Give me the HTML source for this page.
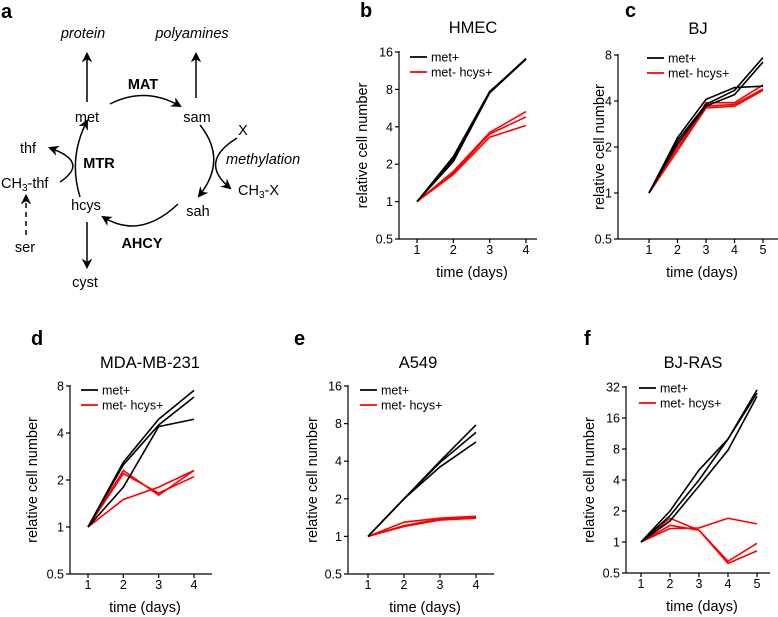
<!DOCTYPE html>
<html><head><meta charset="utf-8">
<style>
body{margin:0;background:#fff;}
svg{display:block;font-family:"Liberation Sans",Arial,sans-serif;}
</style></head>
<body>
<svg id="fig" width="778" height="617" viewBox="0 0 778 617">
<defs>
<marker id="ah" viewBox="0 0 10 10" refX="8" refY="5" markerWidth="7" markerHeight="7" orient="auto-start-reverse"><path d="M0,0 L10,5 L0,10 L3,5 z" fill="#000"/></marker>
</defs>
<g id="pathway" font-size="14.5" fill="#000">
<text x="1" y="18" font-size="20" font-weight="bold">a</text>
<text x="83" y="38" text-anchor="middle" font-style="italic">protein</text>
<text x="192" y="38" text-anchor="middle" font-style="italic">polyamines</text>
<text x="87" y="122" text-anchor="middle">met</text>
<text x="197" y="122" text-anchor="middle">sam</text>
<text x="143" y="89" text-anchor="middle" font-weight="bold">MAT</text>
<text x="243" y="135" text-anchor="middle">X</text>
<text x="226" y="164" font-style="italic">methylation</text>
<text x="238" y="195">CH<tspan font-size="10" dy="3">3</tspan><tspan dy="-3">-X</tspan></text>
<text x="198" y="216" text-anchor="middle">sah</text>
<text x="142" y="248" text-anchor="middle" font-weight="bold">AHCY</text>
<text x="86" y="210" text-anchor="middle">hcys</text>
<text x="99" y="168" text-anchor="middle" font-weight="bold">MTR</text>
<text x="28" y="153" text-anchor="middle">thf</text>
<text x="1" y="188">CH<tspan font-size="10" dy="3">3</tspan><tspan dy="-3">-thf</tspan></text>
<text x="25" y="252" text-anchor="middle">ser</text>
<text x="85" y="287" text-anchor="middle">cyst</text>
<g stroke="#000" stroke-width="1.5" fill="none">
<line x1="87" y1="102" x2="87" y2="54" marker-end="url(#ah)"/>
<line x1="196" y1="98" x2="196" y2="54" marker-end="url(#ah)"/>
<line x1="87" y1="222" x2="87" y2="267" marker-end="url(#ah)"/>
<line x1="26" y1="235" x2="26" y2="196" stroke-dasharray="5,4" marker-end="url(#ah)"/>
<path d="M110,104 Q145,86 180,106" marker-end="url(#ah)"/>
<path d="M200,125 Q228,160 199,196" marker-end="url(#ah)"/>
<path d="M237,138 Q198,162 230,188" marker-end="url(#ah)"/>
<path d="M178,204 Q140,240 103,217" marker-end="url(#ah)"/>
<path d="M80,197 Q68,158 87,121" marker-end="url(#ah)"/>
<path d="M60,182 Q90,162 50,148" marker-end="url(#ah)"/>
</g>
</g>
</svg>
<script>
// ----- data -----
const hmecDays=[1,2,3,4];
const hmecMet=[[1,2.3,7.7,14],[1,2.1,7.5,14],[1,2.2,7.6,14.2]];
const hmecHcys=[[1,1.75,3.6,5.3],[1,1.65,3.3,4.1],[1,1.7,3.5,4.8]];
const bjDays=[1,2,3,4,5];
const bjMet=[[1,2.3,4.1,4.9,5.0],[1,2.2,3.8,4.7,7.7],[1,2.1,3.7,4.4,7.2]];
const bjHcys=[[1,1.9,3.9,3.9,5.1],[1,2.0,3.7,3.8,4.8],[1,1.9,3.6,3.7,4.7]];
const mdaDays=[1,2,3,4];
const mdaMet=[[1,2.6,4.9,7.5],[1,2.5,4.5,6.8],[1,1.8,4.4,4.9]];
const mdaHcys=[[1,2.3,1.6,2.3],[1,2.2,1.65,2.1],[1,1.5,1.8,2.3]];
const a549Days=[1,2,3,4];
const a549Met=[[1,2,4,7.8],[1,2,3.9,6.8],[1,2,3.6,5.7]];
const a549Hcys=[[1,1.3,1.4,1.45],[1,1.2,1.35,1.4],[1,1.22,1.38,1.42]];
const rasDays=[1,2,3,4,5];
const rasMet=[[1,2,5,10,30],[1,1.8,4,10,28],[1,1.6,3.5,7.8,26]];
const rasHcys=[[1,1.35,1.37,1.7,1.5],[1,1.7,1.3,0.65,0.97],[1,1.45,1.3,0.62,0.82]];
const ticksB=[0.5,1,2,4,8,16];
const ticksC=[0.5,1,2,4,8];
const ticksF=[0.5,1,2,4,8,16,32];

const NS="http://www.w3.org/2000/svg";
const svg=document.getElementById('fig');
function mk(tag,attrs,parent){const e=document.createElementNS(NS,tag);for(const k in attrs)e.setAttribute(k,attrs[k]);parent.appendChild(e);return e;}

function panel(cfg,days,met,hcys,ticks){
  const g=mk('g',{},svg);
  
  
  const lmin=Math.log2(ticks[0]),lmax=Math.log2(ticks[ticks.length-1]);
  const ys=v=>cfg.y0+(Math.log2(v)-lmin)/(lmax-lmin)*(cfg.y1-cfg.y0);
  const xs=d=>cfg.x0+(d-days[0])/(days[days.length-1]-days[0])*(cfg.x1-cfg.x0);
  let t=mk('text',{x:cfg.lx,y:cfg.ly,'font-size':20,'font-weight':'bold'},g);t.textContent=cfg.id;
  
  
  t=mk('text',{x:cfg.tx,y:cfg.ty,'font-size':16.5,'text-anchor':'middle'},g);t.textContent=cfg.title;
  
  
  let a=mk('line',{x1:cfg.ax,y1:cfg.y1-1,x2:cfg.ax,y2:cfg.y0,stroke:'#000','stroke-width':1.2},g);
  
  
  a=mk('line',{x1:cfg.ax,y1:cfg.y0,x2:cfg.xe,y2:cfg.y0,stroke:'#000','stroke-width':1.2},g);
  
  
  ticks.forEach(v=>{const y=ys(v);
    mk('line',{x1:cfg.ax-4,y1:y,x2:cfg.ax,y2:y,stroke:'#000','stroke-width':1.2},g);
    const l=mk('text',{x:cfg.ax-6,y:y+4.5,'font-size':12.5,'text-anchor':'end'},g);l.textContent=String(v);
    
    
  });
  days.forEach(d=>{const x=xs(d);
    mk('line',{x1:x,y1:cfg.y0,x2:x,y2:cfg.y0+4,stroke:'#000','stroke-width':1.2},g);
    const l=mk('text',{x:x,y:cfg.y0+15,'font-size':12.5,'text-anchor':'middle'},g);l.textContent=String(d);
    
    
  });
  t=mk('text',{x:(cfg.ax+cfg.xe)/2+4,y:cfg.y0+38,'font-size':14.5,'text-anchor':'middle'},g);t.textContent='time (days)';
  
  
  const ym=(cfg.y0+cfg.y1)/2;
  t=mk('text',{x:cfg.yl,y:ym,'font-size':14.5,'text-anchor':'middle',transform:`rotate(-90 ${cfg.yl} ${ym})`,'dominant-baseline':'central'},g);t.textContent='relative cell number';
  
  
  [[hcys,'#f00','met-hcys-line'],[met,'#000','met-line']].forEach(([set,col,nm])=>{
    set.forEach(s=>{const p=mk('polyline',{points:s.map((v,i)=>xs(days[i])+','+ys(v)).join(' '),fill:'none',stroke:col,'stroke-width':1.6},g);
      
      });
  });
  [['met+','#000',0],['met- hcys+','#f00',15]].forEach(([lab,col,dy])=>{
    const le=mk('g',{},g);
    
    
    mk('line',{x1:cfg.gx,y1:cfg.gy+dy,x2:cfg.gx+17,y2:cfg.gy+dy,stroke:col,'stroke-width':1.8},le);
    const tt=mk('text',{x:cfg.gx+21,y:cfg.gy+dy+4.5,'font-size':12.5},le);tt.textContent=lab;
  });
}
panel({id:'b',title:'HMEC',lx:360,ly:17,tx:473,ty:33,ax:399,xe:537,x0:417,x1:526,y0:239,y1:52,yl:363,gx:410,gy:57},hmecDays,hmecMet,hmecHcys,ticksB);
panel({id:'c',title:'BJ',lx:625,ly:17,tx:698,ty:34,ax:618,xe:778,x0:649,x1:763,y0:239,y1:55,yl:600,gx:647,gy:58},bjDays,bjMet,bjHcys,ticksC);
panel({id:'d',title:'MDA-MB-231',lx:31,ly:345,tx:150,ty:368,ax:70,xe:212,x0:88,x1:194,y0:574,y1:386,yl:33,gx:81,gy:390},mdaDays,mdaMet,mdaHcys,ticksC);
panel({id:'e',title:'A549',lx:294,ly:345,tx:418,ty:368,ax:348,xe:494,x0:368,x1:476,y0:574,y1:386,yl:313,gx:360,gy:390},a549Days,a549Met,a549Hcys,ticksB);
panel({id:'f',title:'BJ-RAS',lx:584,ly:345,tx:693,ty:368,ax:626,xe:770,x0:641,x1:757,y0:573,y1:387,yl:590,gx:639,gy:388},rasDays,rasMet,rasHcys,ticksF);
</script>
</body></html>
